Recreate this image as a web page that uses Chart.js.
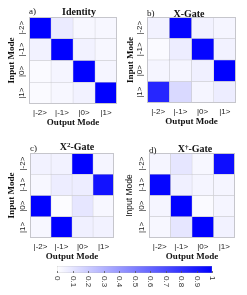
<!DOCTYPE html>
<html>
<head>
<meta charset="utf-8">
<script src="https://cdn.jsdelivr.net/npm/chart.js@4"></script>
<style>
  body { margin: 0; background: #fff; width: 247px; height: 295px; position: relative; overflow: hidden; }
  canvas { position: absolute; }
  .lbl { position: absolute; font-family: "Liberation Serif"; color: #111; white-space: nowrap; line-height: 1; }
  .ttl { font-weight: bold; font-size: 10px; transform: translate(-50%, -50%); }
  .ttl sup { font-size: 7px; line-height: 0; vertical-align: 3px; }
  .let { font-size: 9px; transform: translateY(-50%); }
</style>
</head>
<body>
<script>
const inModes = ["|-2>", "|-1>", "|0>", "|1>"];
const outModes = ["|-2>", "|-1>", "|0>", "|1>"];

// rows = input mode, columns = output mode
const identity = [
  [1.00, 0.08, 0.03, 0.03],
  [0.05, 1.00, 0.05, 0.03],
  [0.02, 0.04, 1.00, 0.04],
  [0.02, 0.03, 0.05, 1.00]
];
const xGate = [
  [0.05, 0.98, 0.05, 0.04],
  [0.02, 0.07, 0.98, 0.05],
  [0.04, 0.04, 0.06, 1.00],
  [0.85, 0.15, 0.04, 0.07]
];
const x2Gate = [
  [0.05, 0.05, 1.00, 0.04],
  [0.03, 0.07, 0.07, 0.93],
  [1.00, 0.01, 0.10, 0.03],
  [0.03, 1.00, 0.06, 0.05]
];
const xDagGate = [
  [0.04, 0.10, 0.03, 0.95],
  [0.98, 0.06, 0.04, 0.04],
  [0.04, 1.00, 0.02, 0.04],
  [0.03, 0.10, 1.00, 0.05]
];
const cbTicks = [0, 0.1, 0.2, 0.3, 0.4, 0.5, 0.6, 0.7, 0.8, 0.9, 1];

Chart.defaults.font.family = "Liberation Sans";
Chart.defaults.color = "#222";

function cellColor(v) {
  const c = Math.round(255 * (1 - v));
  return `rgb(${c},${c},255)`;
}

function addLabel(text, cls, x, y, sup) {
  const d = document.createElement("div");
  d.className = "lbl " + cls;
  if (sup) {
    // "X", superscript, rest
    d.appendChild(document.createTextNode(text[0]));
    const s = document.createElement("sup");
    s.textContent = sup;
    d.appendChild(s);
    d.appendChild(document.createTextNode(text.slice(1)));
  } else {
    d.textContent = text;
  }
  d.style.left = x + "px";
  d.style.top = y + "px";
  document.body.appendChild(d);
}

const cellLabels = {
  id: "cellLabels",
  afterDraw(chart) {
    const { ctx, chartArea: a } = chart;
    const ys = chart.scales.y;
    ctx.save();
    ctx.strokeStyle = "#c6c6cc";
    ctx.lineWidth = 1;
    ctx.strokeRect(a.left + 0.5, a.top + 0.5, a.width - 1, a.height - 1);
    ctx.fillStyle = "#222";
    ctx.font = "8px 'Liberation Sans'";
    ctx.textAlign = "center";
    ctx.textBaseline = "middle";
    inModes.forEach((m, i) => {
      ctx.save();
      ctx.translate(a.left - 7, ys.getPixelForValue(i));
      ctx.rotate(-Math.PI / 2);
      ctx.fillText(m, 0, 0);
      ctx.restore();
    });
    ctx.restore();
  }
};

const panels = [
  { m: identity, title: "Identity", sup: "", letter: "a)", x: 0, y: 0, w: 123, h: 128, padL: 2, padR: 6, yw: 27, tx: 79, ty: 11.5, lx: 29, ly: 11, serifY: true },
  { m: xGate, title: "X-Gate", sup: "", letter: "b)", x: 119, y: 0, w: 128, h: 127, padL: 2, padR: 11, yw: 26, tx: 189, ty: 13.5, lx: 147, ly: 13, serifY: true },
  { m: x2Gate, title: "X-Gate", sup: "2", letter: "c)", x: 0, y: 136, w: 123, h: 126, padL: 2, padR: 9, yw: 28, tx: 77, ty: 147, lx: 30, ly: 148, serifY: true },
  { m: xDagGate, title: "X-Gate", sup: "†", letter: "d)", x: 119, y: 136, w: 128, h: 126, padL: 2, padR: 12, yw: 28, tx: 195, ty: 149, lx: 149, ly: 150, serifY: false }
];

panels.forEach(p => {
  const cv = document.createElement("canvas");
  cv.width = p.w;
  cv.height = p.h;
  cv.style.left = p.x + "px";
  cv.style.top = p.y + "px";
  document.body.appendChild(cv);

  new Chart(cv, {
    type: "bar",
    data: {
      labels: inModes,
      datasets: outModes.map((o, j) => ({
        label: o,
        data: inModes.map(() => 1),
        backgroundColor: p.m.map(row => cellColor(row[j])),
        borderColor: "#c6c6cc",
        borderWidth: 0.5,
        borderSkipped: false,
        barPercentage: 1,
        categoryPercentage: 1
      }))
    },
    options: {
      indexAxis: "y",
      responsive: false,
      animation: false,
      layout: { padding: { left: p.padL, right: p.padR, top: 17, bottom: 0 } },
      plugins: { legend: { display: false }, tooltip: { enabled: false } },
      scales: {
        x: {
          type: "linear", stacked: true, min: 0, max: 4,
          grid: { display: false, drawTicks: false },
          border: { display: false },
          afterBuildTicks: s => { s.ticks = outModes.map((o, i) => ({ value: i + 0.5 })); },
          ticks: { callback: (v, i) => outModes[i], font: { size: 8 }, padding: 4, autoSkip: false, maxRotation: 0 },
          afterFit: s => { s.height = 24; },
          title: { display: true, text: "Output Mode", color: "#111",
                   font: { family: "Liberation Serif", weight: "bold", size: 9 }, padding: { top: 0, bottom: 0 } }
        },
        y: {
          stacked: true,
          grid: { display: false, drawTicks: false },
          border: { display: false },
          ticks: { display: false },
          afterFit: s => { s.width = p.yw; },
          title: { display: true, text: "Input Mode", color: "#111",
                   font: p.serifY ? { family: "Liberation Serif", weight: "bold", size: 9 } : { family: "Liberation Sans", size: 8.5 },
                   padding: { top: 4, bottom: 0 } }
        }
      }
    },
    plugins: [cellLabels]
  });

  addLabel(p.title, "ttl", p.tx, p.ty, p.sup);
  addLabel(p.letter, "let", p.lx, p.ly);
});

// colour bar
const cbLabels = {
  id: "cbLabels",
  afterDraw(chart) {
    const { ctx, chartArea: a } = chart;
    const xs = chart.scales.x;
    ctx.save();
    ctx.strokeStyle = "#555";
    ctx.lineWidth = 0.8;
    ctx.fillStyle = "#333";
    ctx.font = "8px 'Liberation Sans'";
    ctx.textAlign = "left";
    ctx.textBaseline = "middle";
    cbTicks.forEach(v => {
      const x = Math.round(xs.getPixelForValue(v)) + 0.5;
      ctx.beginPath();
      ctx.moveTo(x, a.bottom - 2);
      ctx.lineTo(x, a.bottom);
      ctx.stroke();
      ctx.save();
      ctx.translate(x, a.bottom + 3);
      ctx.rotate(Math.PI / 2);
      ctx.fillText(String(v), 0, 0);
      ctx.restore();
    });
    ctx.restore();
  }
};

const cb = document.createElement("canvas");
cb.width = 247;
cb.height = 37;
cb.style.left = "0px";
cb.style.top = "258px";
document.body.appendChild(cb);

new Chart(cb, {
  type: "bar",
  data: {
    labels: [""],
    datasets: [{
      data: [1],
      backgroundColor: c => {
        const a = c.chart.chartArea;
        if (!a) return "#fff";
        const g = c.chart.ctx.createLinearGradient(a.left, 0, a.right, 0);
        g.addColorStop(0, cellColor(0));
        g.addColorStop(1, cellColor(1));
        return g;
      },
      borderColor: "#999",
      borderWidth: 0.5,
      borderSkipped: false,
      barPercentage: 1,
      categoryPercentage: 1
    }]
  },
  options: {
    indexAxis: "y",
    responsive: false,
    animation: false,
    layout: { padding: { left: 57, right: 35, top: 8, bottom: 0 } },
    plugins: { legend: { display: false }, tooltip: { enabled: false } },
    scales: {
      x: {
        min: 0, max: 1,
        grid: { display: false, drawTicks: false },
        border: { display: false },
        ticks: { display: false },
        afterFit: s => { s.height = 22; }
      },
      y: { display: false }
    }
  },
  plugins: [cbLabels]
});
</script>
</body>
</html>
